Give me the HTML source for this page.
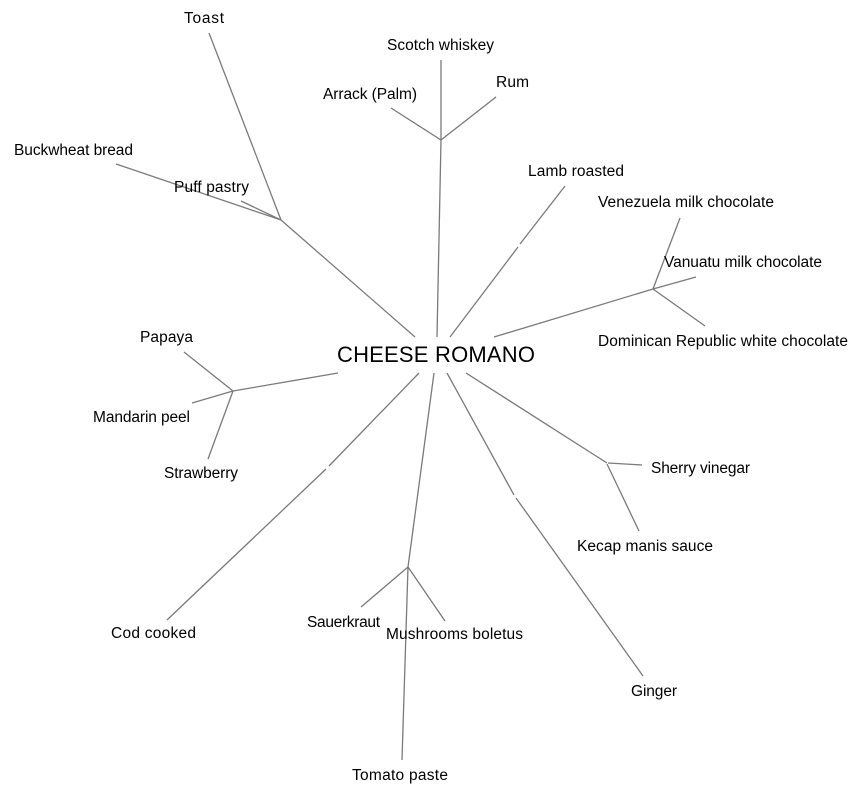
<!DOCTYPE html>
<html><head><meta charset="utf-8"><style>
html,body{margin:0;padding:0;background:#fff;}
svg{display:block;}
text{font-family:"Liberation Sans",Arial,sans-serif;font-size:15.5px;fill:#000;}
</style></head><body>
<svg width="864" height="794" viewBox="0 0 864 794" xmlns="http://www.w3.org/2000/svg">
<g stroke="#7a7a7a" stroke-width="1.3" fill="none" stroke-linecap="butt">
<!-- Toast cluster -->
<line x1="415" y1="337" x2="281" y2="220"/>
<line x1="281" y1="220" x2="209" y2="33"/>
<line x1="281" y1="220" x2="116" y2="164"/>
<line x1="281" y1="220" x2="241" y2="201"/>
<!-- Scotch cluster -->
<line x1="437" y1="337" x2="441" y2="140"/>
<line x1="441" y1="140" x2="441" y2="60"/>
<line x1="441" y1="140" x2="496" y2="97"/>
<line x1="441" y1="140" x2="391" y2="108"/>
<!-- Lamb -->
<line x1="450" y1="337" x2="518" y2="247"/>
<line x1="520" y1="244" x2="565" y2="186"/>
<!-- Chocolate cluster -->
<line x1="494" y1="337" x2="653" y2="289"/>
<line x1="653" y1="289" x2="680" y2="218"/>
<line x1="653" y1="289" x2="696" y2="277"/>
<line x1="653" y1="289" x2="705" y2="326"/>
<!-- Papaya cluster -->
<line x1="338" y1="373" x2="233" y2="391"/>
<line x1="233" y1="391" x2="184" y2="352"/>
<line x1="233" y1="391" x2="192" y2="403"/>
<line x1="233" y1="391" x2="208" y2="459"/>
<!-- Cod -->
<line x1="419" y1="373" x2="329" y2="466"/>
<line x1="326" y1="469" x2="167" y2="620"/>
<!-- Tomato cluster -->
<line x1="434" y1="373" x2="408" y2="567"/>
<line x1="408" y1="567" x2="402" y2="760"/>
<line x1="408" y1="567" x2="361" y2="607"/>
<line x1="408" y1="567" x2="445" y2="621"/>
<!-- Ginger -->
<line x1="447" y1="373" x2="514" y2="495"/>
<line x1="516" y1="498" x2="643" y2="676"/>
<!-- Sherry cluster -->
<line x1="466" y1="373" x2="607" y2="463"/>
<line x1="608" y1="463" x2="642" y2="465"/>
<line x1="607" y1="464" x2="639" y2="531"/>
</g>
<text x="337" y="362" style="font-size:22px" textLength="198">CHEESE ROMANO</text>
<text x="184" y="23" textLength="40">Toast</text>
<text x="387" y="50" textLength="107">Scotch whiskey</text>
<text x="323" y="99" textLength="94">Arrack (Palm)</text>
<text x="496" y="87" textLength="33">Rum</text>
<text x="14" y="155" textLength="119">Buckwheat bread</text>
<text x="174" y="192" textLength="75">Puff pastry</text>
<text x="528" y="176" textLength="96">Lamb roasted</text>
<text x="598" y="207" textLength="176">Venezuela milk chocolate</text>
<text x="664" y="267" textLength="158">Vanuatu milk chocolate</text>
<text x="598" y="346" textLength="250">Dominican Republic white chocolate</text>
<text x="140" y="342" textLength="53">Papaya</text>
<text x="93" y="422" textLength="97">Mandarin peel</text>
<text x="164" y="478" textLength="74">Strawberry</text>
<text x="111" y="638" textLength="85">Cod cooked</text>
<text x="307" y="627" textLength="73">Sauerkraut</text>
<text x="386" y="639" textLength="137">Mushrooms boletus</text>
<text x="352" y="780" textLength="96">Tomato paste</text>
<text x="651" y="473" textLength="99">Sherry vinegar</text>
<text x="577" y="551" textLength="136">Kecap manis sauce</text>
<text x="631" y="696" textLength="46">Ginger</text>
</svg>
</body></html>
